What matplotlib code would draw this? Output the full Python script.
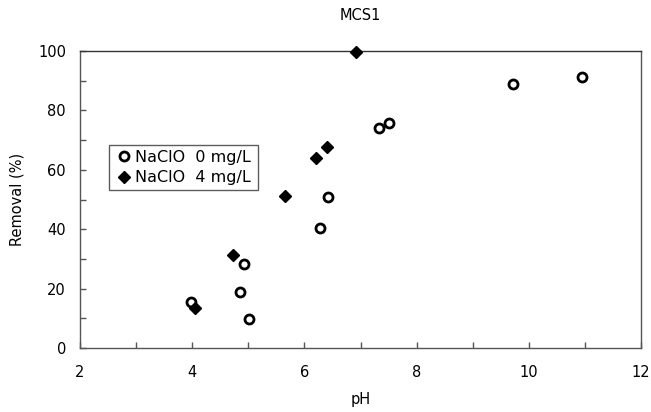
import matplotlib
matplotlib.use("Agg")
import matplotlib.pyplot as plt
from matplotlib.ticker import MultipleLocator

# NaClO 0 mg/L (open circles)
ph_0 = [3.98, 4.85, 4.92, 5.01, 6.28, 6.42, 7.33, 7.51, 9.72, 10.95]
removal_0 = [15.5, 18.9, 28.3, 9.8, 40.4, 50.8, 74.1, 75.8, 88.9, 91.2]

# NaClO 4 mg/L (filled diamonds)
ph_4 = [4.05, 4.73, 5.65, 6.21, 6.40, 6.92]
removal_4 = [13.5, 31.3, 51.2, 64.0, 67.7, 99.7]

labels = ["NaClO  0 mg/L", "NaClO  4 mg/L"]

plt.rcParams['font.family'] = ['DejaVu Sans']
fontsize = 10.5
spine_col = '#555555'

fig = plt.figure(figsize=(6.51, 4.12), dpi=100)
ax = fig.add_axes([80 / 651, (412 - 348) / 412, 561 / 651, 297 / 412])

ax.plot(ph_0, removal_0, linestyle='none', marker='o', markersize=6.5,
        markerfacecolor='white', markeredgecolor='black', markeredgewidth=2,
        label=labels[0], clip_on=False, zorder=3)
ax.plot(ph_4, removal_4, linestyle='none', marker='D', markersize=6.5,
        color='black', label=labels[1], clip_on=False, zorder=3)

# axes
ax.set_xlim(2, 12)
ax.set_ylim(0, 100)
ax.xaxis.set_major_locator(MultipleLocator(2))
ax.xaxis.set_minor_locator(MultipleLocator(1))
ax.yaxis.set_major_locator(MultipleLocator(20))
ax.yaxis.set_minor_locator(MultipleLocator(10))
ax.tick_params(which='both', direction='in', length=4, width=1, color=spine_col,
               labelsize=fontsize, top=False, right=False)
ax.tick_params(axis='x', pad=12)
ax.tick_params(axis='y', pad=10)
for s in ax.spines.values():
    s.set_color(spine_col)
    s.set_linewidth(1)
ax.spines['top'].set_color('#333333')

ax.set_xlabel('pH', fontsize=fontsize, labelpad=9)
ax.set_ylabel('Removal (%)', fontsize=fontsize, labelpad=10)
ax.set_title('MCS1', fontsize=fontsize, pad=22)

leg = ax.legend(loc='lower left', bbox_to_anchor=(0.052, 0.532, 0.265, 0.178),
                mode='expand', fontsize=11.5, frameon=True, fancybox=False,
                borderpad=0.3, handletextpad=0.1, handlelength=1.2,
                borderaxespad=0, labelspacing=0.35)
leg.get_frame().set_edgecolor('#333333')
leg.get_frame().set_linewidth(1)

fig.savefig('out.png', dpi=100)
